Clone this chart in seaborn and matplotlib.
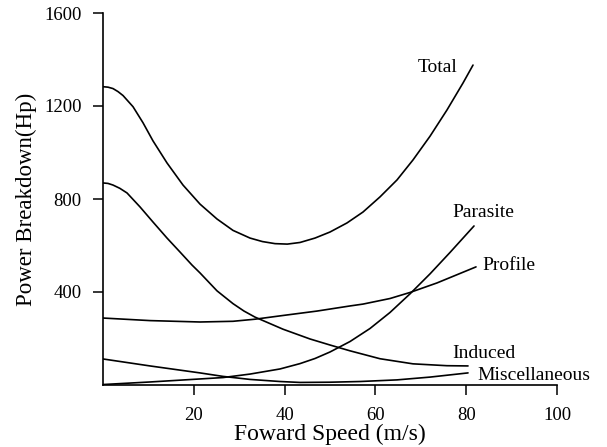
import matplotlib
matplotlib.use("Agg")
import matplotlib.pyplot as plt
import seaborn as sns
import pandas as pd

# Values
total_x = [0, 1.1, 2.2, 3.3, 4.41, 6.61, 8.81, 11.01, 14.1, 17.62, 21.37, 25.11, 28.63, 32.38, 35.1,
           37.89, 40.6, 43.39, 46.7, 50.0, 53.74, 57.27, 61.01, 64.76, 68.28, 72.03, 75.77, 79.3, 81.5]
total_y = [1283, 1281, 1275, 1262, 1245, 1197, 1128, 1050, 955, 860, 778, 714, 665, 632, 617,
           608, 606, 613, 632, 658, 697, 744, 809, 882, 968, 1070, 1183, 1299, 1376]

induced_x = [0, 1.1, 2.2, 3.7, 5.29, 8.15, 11.01, 14.1, 16.96, 19.6, 21.37, 25.11, 28.63, 31.06, 33.48,
             39.65, 45.59, 50.0, 54.41, 61.01, 68.28, 75.77, 80.4]
induced_y = [869, 867, 860, 846, 826, 766, 701, 632, 572, 516, 482, 405, 350, 318, 292,
             240, 198, 172, 147, 113, 91, 83, 82]

profile_x = [0, 10.35, 21.37, 28.63, 33.48, 39.65, 47.14, 54.41, 57.27, 63.22, 67.62, 73.57, 82.16]
profile_y = [288, 277, 271, 274, 283, 299, 318, 340, 348, 372, 398, 439, 508]

parasite_x = [0, 10.35, 21.37, 26.43, 32.38, 38.99, 43.39, 46.7, 50.0, 54.41, 58.81, 63.22,
              67.62, 72.03, 76.43, 81.72]
parasite_y = [2, 13, 26, 32, 47, 69, 92, 114, 142, 187, 243, 312,
              392, 478, 570, 684]

misc_x = [0, 10.35, 21.37, 26.43, 32.38, 38.99, 43.39, 50.0, 56.61, 64.76, 72.03, 80.4]
misc_y = [112, 82, 52, 37, 24, 15, 11, 12, 15, 22, 34, 52]

x_ticks = [20, 40, 60, 80, 100]
y_ticks = [400, 800, 1200, 1600]

labels = ["Total", "Parasite", "Profile", "Induced", "Miscellaneous"]

series = [
    ("Total", total_x, total_y),
    ("Induced", induced_x, induced_y),
    ("Profile", profile_x, profile_y),
    ("Parasite", parasite_x, parasite_y),
    ("Miscellaneous", misc_x, misc_y),
]

sns.set_theme(style="ticks")
plt.rcParams["font.family"] = ["Liberation Serif", "DejaVu Serif"]

fig = plt.figure(figsize=(6.07, 4.47), dpi=100)
ax = fig.add_axes([103 / 607, (447 - 385) / 447, (557 - 103) / 607, (385 - 13) / 447])

for name, xs, ys in series:
    df = pd.DataFrame({"x": xs, "y": ys})
    sns.lineplot(data=df, x="x", y="y", ax=ax, color="black", linewidth=1.2,
                 sort=False, estimator=None)

ax.set_xlim(0, 100)
ax.set_ylim(0, 1600)
ax.set_xticks(x_ticks)
ax.set_yticks(y_ticks)
ax.set_xticklabels([str(v) for v in x_ticks])
ax.set_yticklabels([str(v) for v in y_ticks])
ax.tick_params(axis="both", labelsize=13.5, length=7.5, width=1.1, color="black",
               labelcolor="black", direction="out", pad=8)
for s in ["top", "right"]:
    ax.spines[s].set_visible(False)
for s in ["left", "bottom"]:
    ax.spines[s].set_color("black")
    ax.spines[s].set_linewidth(1.2)

ax.set_xlabel("Foward Speed (m/s)", fontsize=17, color="black")
ax.set_ylabel("Power Breakdown(Hp)", fontsize=16.5, color="black")
ax.xaxis.set_label_coords(0.5, -0.105)
ax.yaxis.set_label_coords(-0.145, 0.5)

label_pos = {
    "Total": (69.4, 1346),
    "Parasite": (76.9, 723),
    "Profile": (83.5, 495),
    "Induced": (76.9, 116),
    "Miscellaneous": (82.4, 22),
}
for name in labels:
    lx, ly = label_pos[name]
    ax.text(lx, ly, name, fontsize=14, ha="left", va="baseline", color="black",
            clip_on=False)

fig.savefig("out.png", dpi=100)
